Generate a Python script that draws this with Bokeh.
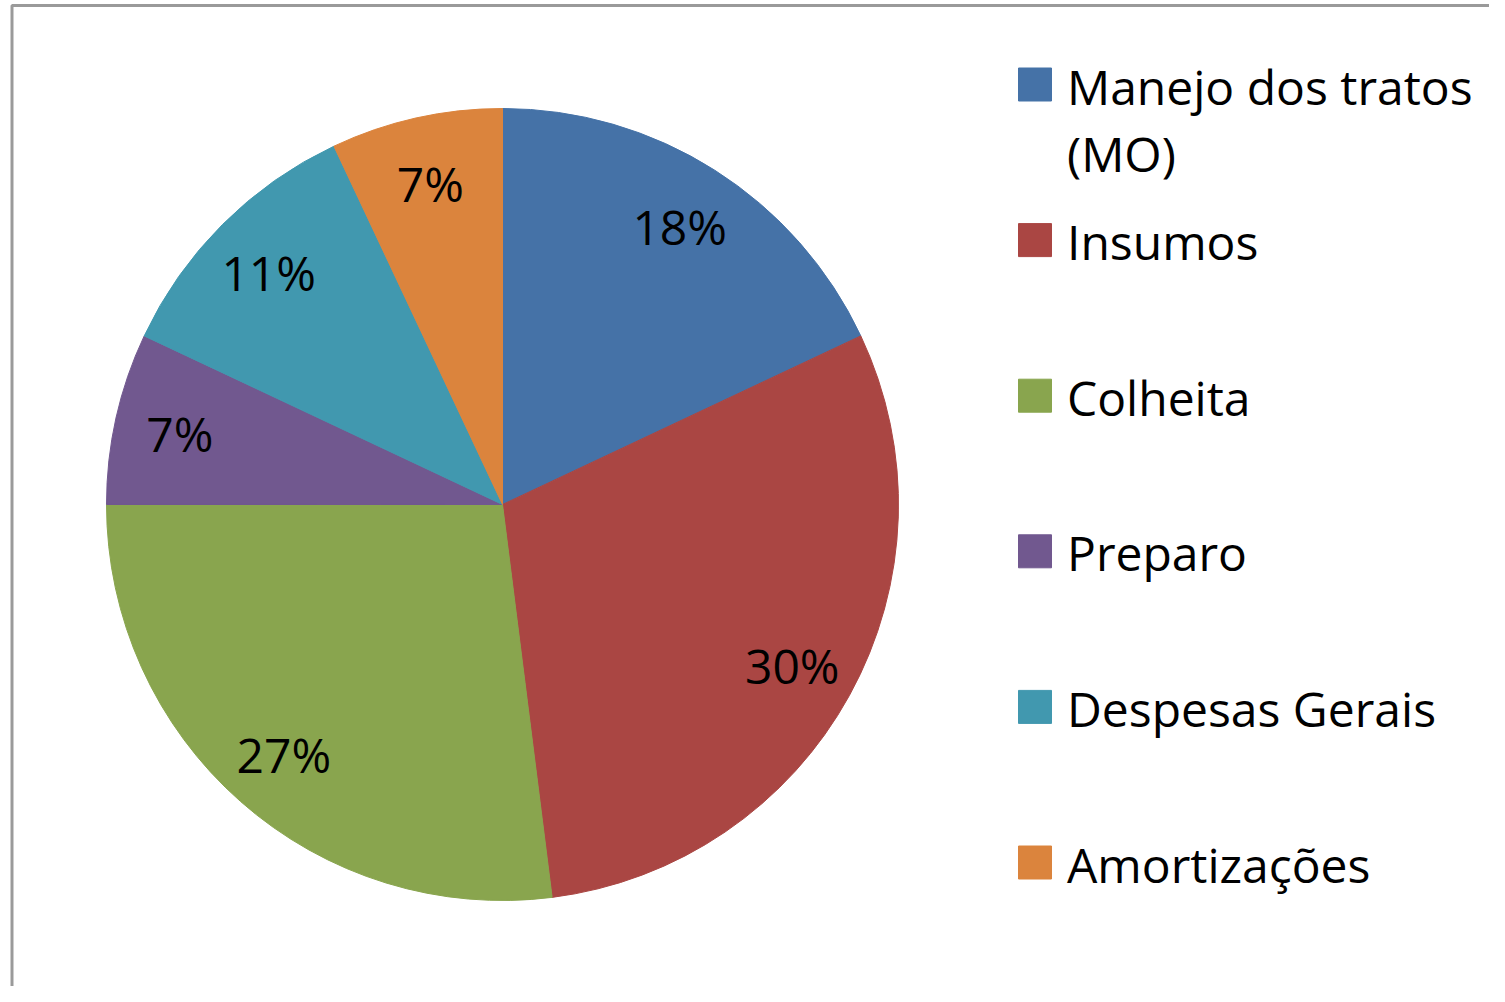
import math
from bokeh.plotting import figure
from bokeh.models import Range1d
from bokeh.core.properties import value
from bokeh.embed import file_html
from bokeh.resources import INLINE

# ---- data ----
categories = ["Manejo dos tratos\n(MO)", "Insumos", "Colheita", "Preparo",
              "Despesas Gerais", "Amortizações"]
percent = [18, 30, 27, 7, 11, 7]
colors = ["#4572A7", "#AA4643", "#89A54E", "#71588F", "#4198AF", "#DB843D"]

W, H = 1489, 986
FONT = "Open Sans"
FS = "48px"

p = figure(width=W, height=H, output_backend="svg", toolbar_location=None,
           x_range=Range1d(0, W), y_range=Range1d(0, H), min_border=0,
           background_fill_color="white", border_fill_color="white")
p.axis.visible = False
p.grid.visible = False
p.outline_line_color = None

# frame (left/top edges visible)
p.line(x=[11.5, 11.5, W + 10], y=[-10, H - 5, H - 5], line_color="#9A9A9A", line_width=3)

# pie
cx, cy, R = 502, 482, 396
total = float(sum(percent))
starts, ends, mids = [], [], []
acc = 0.0
for v in percent:
    a0 = math.pi / 2 - 2 * math.pi * acc / total
    acc += v
    a1 = math.pi / 2 - 2 * math.pi * acc / total
    starts.append(a0)
    ends.append(a1)
    mids.append((a0 + a1) / 2)

p.wedge(x=[cx] * len(percent), y=[cy] * len(percent), radius=R,
        start_angle=starts, end_angle=ends, direction="clock",
        fill_color=colors, line_color=colors, line_width=1)

# percentage labels
TXT_DY = -1.5
lr = 0.835 * R
lx = [cx + lr * math.cos(m) for m in mids]
ly = [cy + lr * math.sin(m) + TXT_DY for m in mids]
p.text(x=lx, y=ly, text=[f"{v}%" for v in percent], text_align="center",
       text_baseline="alphabetic", text_font=value(FONT), text_font_size=FS,
       text_color="black")

# legend
lg_x0, lg_y0, step, sq = 1034.5, 902, 155.6, 33
for i, (lab, col) in enumerate(zip(categories, colors)):
    yc = lg_y0 - i * step
    p.rect(x=[lg_x0], y=[yc], width=sq, height=sq, fill_color=col, line_color=col)
    for j, line in enumerate(lab.split("\n")):
        p.text(x=[lg_x0 + 32], y=[yc + TXT_DY - j * 67], text=[line],
               text_align="left", text_baseline="alphabetic",
               text_font=value(FONT), text_font_size=FS, text_color="black")

open("out.html", "w").write(file_html(p, INLINE))
